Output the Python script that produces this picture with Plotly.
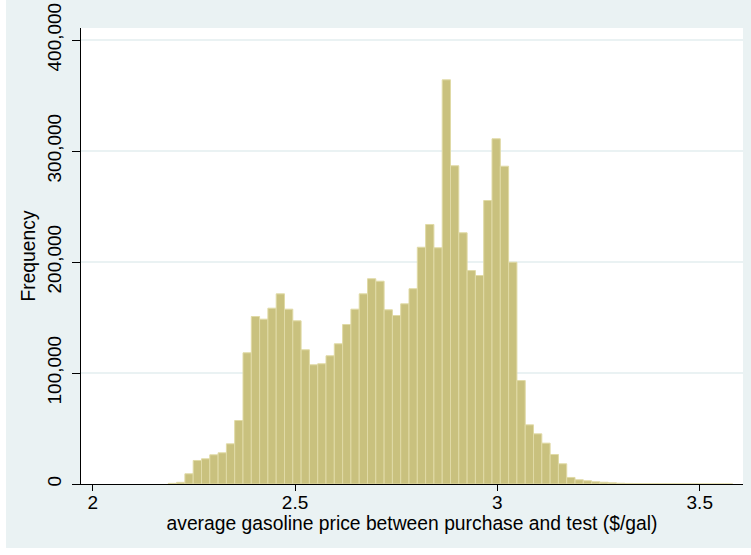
import plotly.graph_objects as go

# Histogram bins (Stata-style): first bin left edge and common bin width
bin_start = 2.1868
bin_width = 0.02051
frequency = [
    600, 1500, 9200, 21200, 22700, 26300, 28100, 36200, 57200, 118200,
    150900, 148500, 158400, 171300, 157500, 147000, 120900, 107400, 108300, 115500,
    126300, 143700, 157500, 171300, 184900, 182700, 156900, 151800, 162300, 175900,
    213300, 233800, 212800, 364100, 286700, 226300, 192300, 187800, 255400, 311000,
    286300, 199800, 93200, 53300, 45200, 36800, 26600, 18200, 5900, 3800,
    2900, 2000, 1600, 1100, 700, 500, 400, 320, 260, 210,
    170, 140, 110, 90, 70, 55, 45, 35,
]
bin_centers = [bin_start + (i + 0.5) * bin_width for i in range(len(frequency))]

x_tickvals = [2, 2.5, 3, 3.5]
x_ticktext = ["2", "2.5", "3", "3.5"]
y_tickvals = [0, 100000, 200000, 300000, 400000]
y_ticktext = ["0", "100,000", "200,000", "300,000", "400,000"]

x_title = "average gasoline price between purchase and test ($/gal)"
y_title = "Frequency"

FONT = "Liberation Sans, Arial, Helvetica, sans-serif"
BLUE = "#EAF2F3"
FS = 19
FS_T = 19.3

fig = go.Figure(
    go.Bar(
        x=bin_centers,
        y=frequency,
        width=bin_width,
        marker=dict(color="rgb(201,193,126)", line=dict(color="rgb(224,218,166)", width=1)),
        hoverinfo="skip",
    )
)

L, R, T, B = 81, 8, 28, 71
W, H = 751, 555
pw = W - L - R
ph = H - T - B
px_per_unit = 404.7
x0 = 2 - (92.7 - L) / px_per_unit
x1 = x0 + pw / px_per_unit
y1 = ph / 111.0 * 100000

fig.update_layout(
    width=W,
    height=H,
    margin=dict(l=L, r=R, t=T, b=B, pad=0, autoexpand=False),
    paper_bgcolor=BLUE,
    plot_bgcolor="white",
    bargap=0,
    showlegend=False,
    hovermode=False,
    font=dict(family=FONT, size=FS, color="black"),
    xaxis=dict(
        range=[x0, x1],
        tickvals=x_tickvals,
        ticktext=x_ticktext,
        ticks="outside",
        ticklen=6,
        tickwidth=1,
        tickcolor="black",
        ticklabelstandoff=-5,
        showline=True,
        linecolor="black",
        linewidth=1,
        showgrid=False,
        zeroline=False,
        automargin=False,
        tickfont=dict(size=FS),
        title=dict(text=x_title, font=dict(size=FS_T), standoff=4),
    ),
    yaxis=dict(
        range=[0, y1],
        tickvals=y_tickvals,
        ticktext=y_ticktext,
        tickangle=-90,
        ticks="outside",
        ticklen=8,
        tickwidth=1,
        tickcolor="black",
        ticklabelstandoff=3,
        showline=True,
        linecolor="black",
        linewidth=1,
        showgrid=True,
        gridcolor=BLUE,
        gridwidth=1.5,
        zeroline=False,
        automargin=False,
        tickfont=dict(size=FS),
        title=dict(text=y_title, font=dict(size=FS_T), standoff=3),
    ),
    shapes=[
        # thin white border around the graph region
        dict(type="rect", xref="paper", yref="paper", x0=-0.3, x1=1.2,
             y0=(H - T - 7) / ph, y1=1.3, fillcolor="white", line=dict(width=0), layer="above"),
        dict(type="rect", xref="paper", yref="paper", x0=-0.3, x1=(6 - L) / pw,
             y0=-0.3, y1=1.3, fillcolor="white", line=dict(width=0), layer="above"),
        dict(type="rect", xref="paper", yref="paper", x0=-0.3, x1=1.2,
             y0=-0.3, y1=-(548 - (H - B)) / ph, fillcolor="white", line=dict(width=0), layer="above"),
    ],
)

fig.write_html(
    "out.html",
    config={"displayModeBar": False, "staticPlot": True},
    post_script="document.body.style.margin='0';document.body.style.overflow='hidden';",
)
